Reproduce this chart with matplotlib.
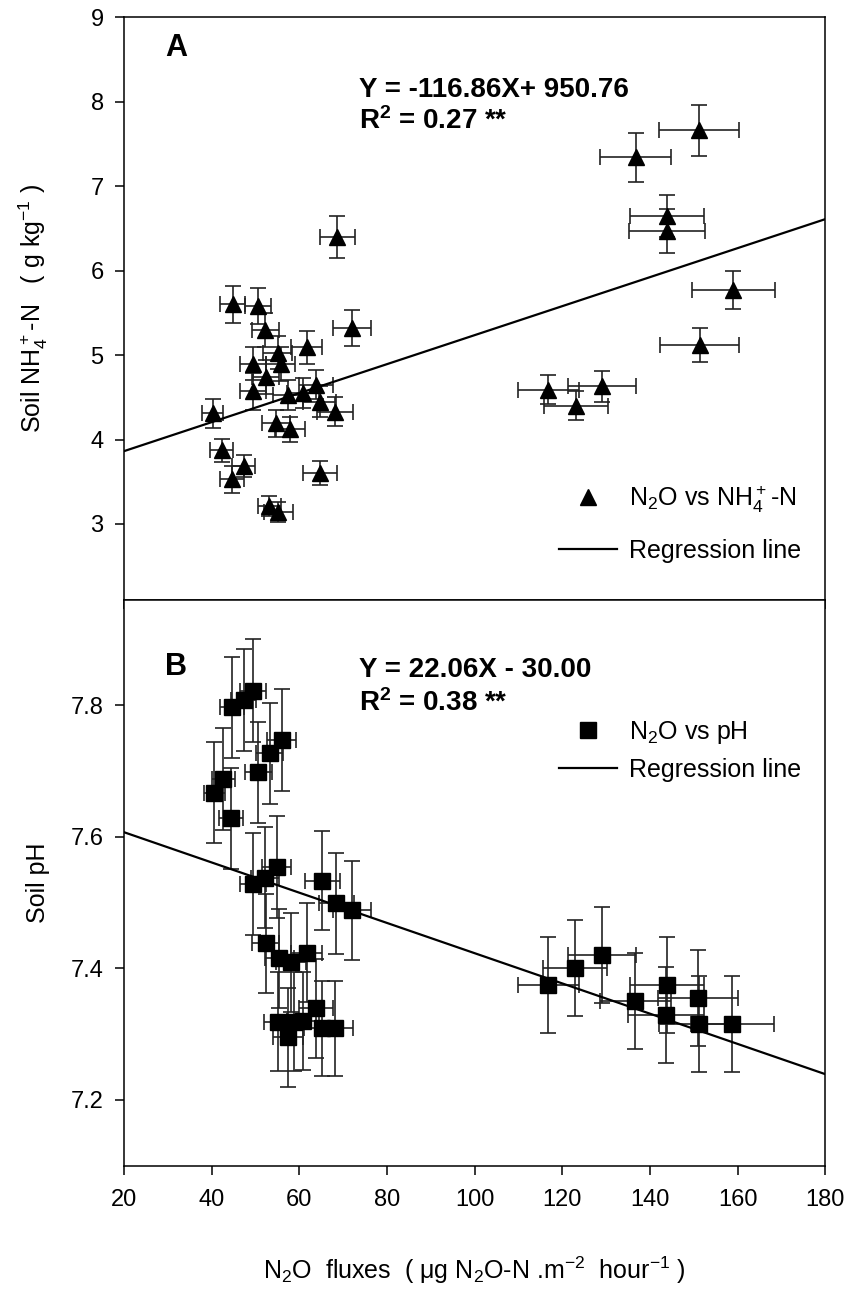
import numpy as np
import matplotlib
matplotlib.use("Agg")
import matplotlib.pyplot as plt
from matplotlib.lines import Line2D

plt.rcParams['font.family'] = ['Liberation Sans', 'DejaVu Sans']
plt.rcParams['mathtext.default'] = 'regular'

# Panel A: N2O flux vs soil NH4+-N
flux_a = [40.3, 42.3, 44.6, 47.3, 44.8, 50.6, 52.3, 49.5, 49.5, 52.4,
          55.1, 55.8, 54.7, 57.9, 53.2, 55.2, 57.5, 60.9, 61.7, 63.8,
          64.7, 68.2, 64.7, 68.7, 72.0, 116.8, 123.1, 129.1, 136.7, 143.9,
          143.9, 151.2, 151.3, 159.0]
flux_a_err = [2.4, 2.6, 2.7, 2.7, 2.8, 3.0, 3.0, 3.0, 3.0, 3.1,
              3.3, 3.3, 3.2, 3.4, 2.7, 3.3, 3.4, 3.6, 3.6, 3.8,
              3.8, 4.1, 3.9, 4.0, 4.3, 6.9, 7.3, 7.7, 8.1, 8.4,
              8.6, 9.1, 9.1, 9.4]
nh4 = [4.31, 3.87, 3.53, 3.69, 5.60, 5.58, 5.30, 4.90, 4.57, 4.74,
       5.03, 4.89, 4.19, 4.12, 3.21, 3.14, 4.53, 4.55, 5.09, 4.65,
       4.45, 4.33, 3.60, 6.40, 5.32, 4.59, 4.40, 4.63, 7.34, 6.65,
       6.47, 7.66, 5.12, 5.77]
nh4_err = [0.17, 0.14, 0.16, 0.13, 0.22, 0.21, 0.20, 0.20, 0.22, 0.20,
           0.20, 0.20, 0.16, 0.15, 0.12, 0.12, 0.18, 0.18, 0.20, 0.17,
           0.18, 0.17, 0.14, 0.25, 0.21, 0.17, 0.17, 0.18, 0.29, 0.25,
           0.26, 0.30, 0.20, 0.23]
reg_a = (0.01718, 3.518)   # slope, intercept of drawn line

# Panel B: N2O flux vs soil pH
flux_b = [44.7, 47.3, 49.5, 56.0, 53.3, 50.7, 42.7, 40.6, 44.4, 54.9,
          52.2, 49.5, 65.3, 68.5, 72.1, 52.4, 55.5, 58.1, 61.7, 63.8,
          55.2, 58.7, 60.9, 57.5, 65.1, 68.2, 116.8, 123.0, 129.0, 136.6,
          143.9, 143.6, 151.0, 151.2, 158.8]
flux_b_err = [2.7, 2.8, 3.0, 3.3, 3.1, 3.0, 2.6, 2.4, 2.7, 3.3,
              3.1, 3.0, 3.9, 4.1, 4.3, 3.1, 3.3, 3.4, 3.6, 3.8,
              3.3, 3.5, 3.6, 3.4, 3.9, 4.1, 6.9, 7.3, 7.7, 8.1,
              8.4, 8.6, 9.1, 9.1, 9.4]
ph = [7.797, 7.808, 7.822, 7.747, 7.727, 7.698, 7.688, 7.667, 7.628, 7.554,
      7.538, 7.528, 7.533, 7.499, 7.488, 7.438, 7.415, 7.409, 7.424, 7.339,
      7.319, 7.319, 7.320, 7.295, 7.309, 7.309, 7.374, 7.400, 7.420, 7.350,
      7.375, 7.329, 7.355, 7.315, 7.315]
ph_err = [0.077, 0.078, 0.078, 0.077, 0.077, 0.077, 0.077, 0.077, 0.077, 0.077,
          0.077, 0.077, 0.075, 0.077, 0.075, 0.075, 0.075, 0.075, 0.075, 0.075,
          0.075, 0.075, 0.075, 0.075, 0.072, 0.072, 0.073, 0.073, 0.073, 0.073,
          0.073, 0.073, 0.073, 0.073, 0.073]
reg_b = (-0.0023, 7.653)

fig = plt.figure(figsize=(8.47, 12.93), dpi=100)
ax_a = fig.add_axes([0.1462, 0.536, 0.8283, 0.4506])
ax_b = fig.add_axes([0.1462, 0.0985, 0.8283, 0.4375], sharex=ax_a)

err_kw = dict(ecolor='#222222', elinewidth=1.2, capsize=5.5, capthick=1.2,
              linestyle='none', zorder=2)

ax_a.errorbar(flux_a, nh4, xerr=flux_a_err, yerr=nh4_err, fmt='^',
              color='black', markersize=12, **err_kw)
ax_b.errorbar(flux_b, ph, xerr=flux_b_err, yerr=ph_err, fmt='s',
              color='black', markersize=11, **err_kw)

xx = np.array([20, 180])
ax_a.plot(xx, reg_a[0] * xx + reg_a[1], color='black', lw=1.6, zorder=3)
ax_b.plot(xx, reg_b[0] * xx + reg_b[1], color='black', lw=1.6, zorder=3)

ax_a.set_xlim(20, 180)
ax_a.set_ylim(2.1, 9)
ax_b.set_ylim(7.1, 7.96)
ax_a.set_yticks([3, 4, 5, 6, 7, 8, 9])
ax_b.set_yticks([7.2, 7.4, 7.6, 7.8])
ax_b.set_xticks(np.arange(20, 181, 20))

for ax in (ax_a, ax_b):
    for s in ax.spines.values():
        s.set_linewidth(1.1)
    ax.tick_params(direction='out', length=6.5, width=1.1, labelsize=17, pad=8)
ax_a.tick_params(axis='x', labelbottom=False)
ax_b.tick_params(axis='x', pad=10)

ax_a.set_ylabel('Soil NH$_4^+$-N   ( g kg$^{-1}$ )', fontsize=18)
ax_b.set_ylabel('Soil pH', fontsize=18)
ax_a.yaxis.set_label_coords(-0.105, 0.5)
ax_b.yaxis.set_label_coords(-0.105, 0.5)
ax_b.set_xlabel('N$_2$O  fluxes  ( μg N$_2$O-N .m$^{-2}$  hour$^{-1}$ )',
                fontsize=18, labelpad=32)

ax_a.text(0.059, 0.947, 'A', transform=ax_a.transAxes, fontsize=22,
          fontweight='bold', va='center')
ax_a.text(0.335, 0.876, 'Y = -116.86X+ 950.76', transform=ax_a.transAxes,
          fontsize=20, fontweight='bold', va='center')
ax_a.text(0.335, 0.822, 'R$^2$ = 0.27 **', transform=ax_a.transAxes,
          fontsize=20, fontweight='bold', va='center')

ax_b.text(0.059, 0.882, 'B', transform=ax_b.transAxes, fontsize=22,
          fontweight='bold', va='center')
ax_b.text(0.335, 0.876, 'Y = 22.06X - 30.00', transform=ax_b.transAxes,
          fontsize=20, fontweight='bold', va='center')
ax_b.text(0.335, 0.818, 'R$^2$ = 0.38 **', transform=ax_b.transAxes,
          fontsize=20, fontweight='bold', va='center')

h_a = [Line2D([], [], marker='^', color='black', linestyle='none', markersize=12),
       Line2D([], [], color='black', lw=1.6)]
ax_a.legend(h_a, ['N$_2$O vs NH$_4^+$-N', 'Regression line'], loc='lower right',
            bbox_to_anchor=(0.998, 0.025), frameon=False, fontsize=18,
            handlelength=2.3, handletextpad=0.5, labelspacing=0.95)

h_b = [Line2D([], [], marker='s', color='black', linestyle='none', markersize=11),
       Line2D([], [], color='black', lw=1.6)]
ax_b.legend(h_b, ['N$_2$O vs pH', 'Regression line'], loc='upper right',
            bbox_to_anchor=(0.998, 0.83), frameon=False, fontsize=18,
            handlelength=2.3, handletextpad=0.5, labelspacing=0.5)

fig.savefig('out.png', dpi=100)
